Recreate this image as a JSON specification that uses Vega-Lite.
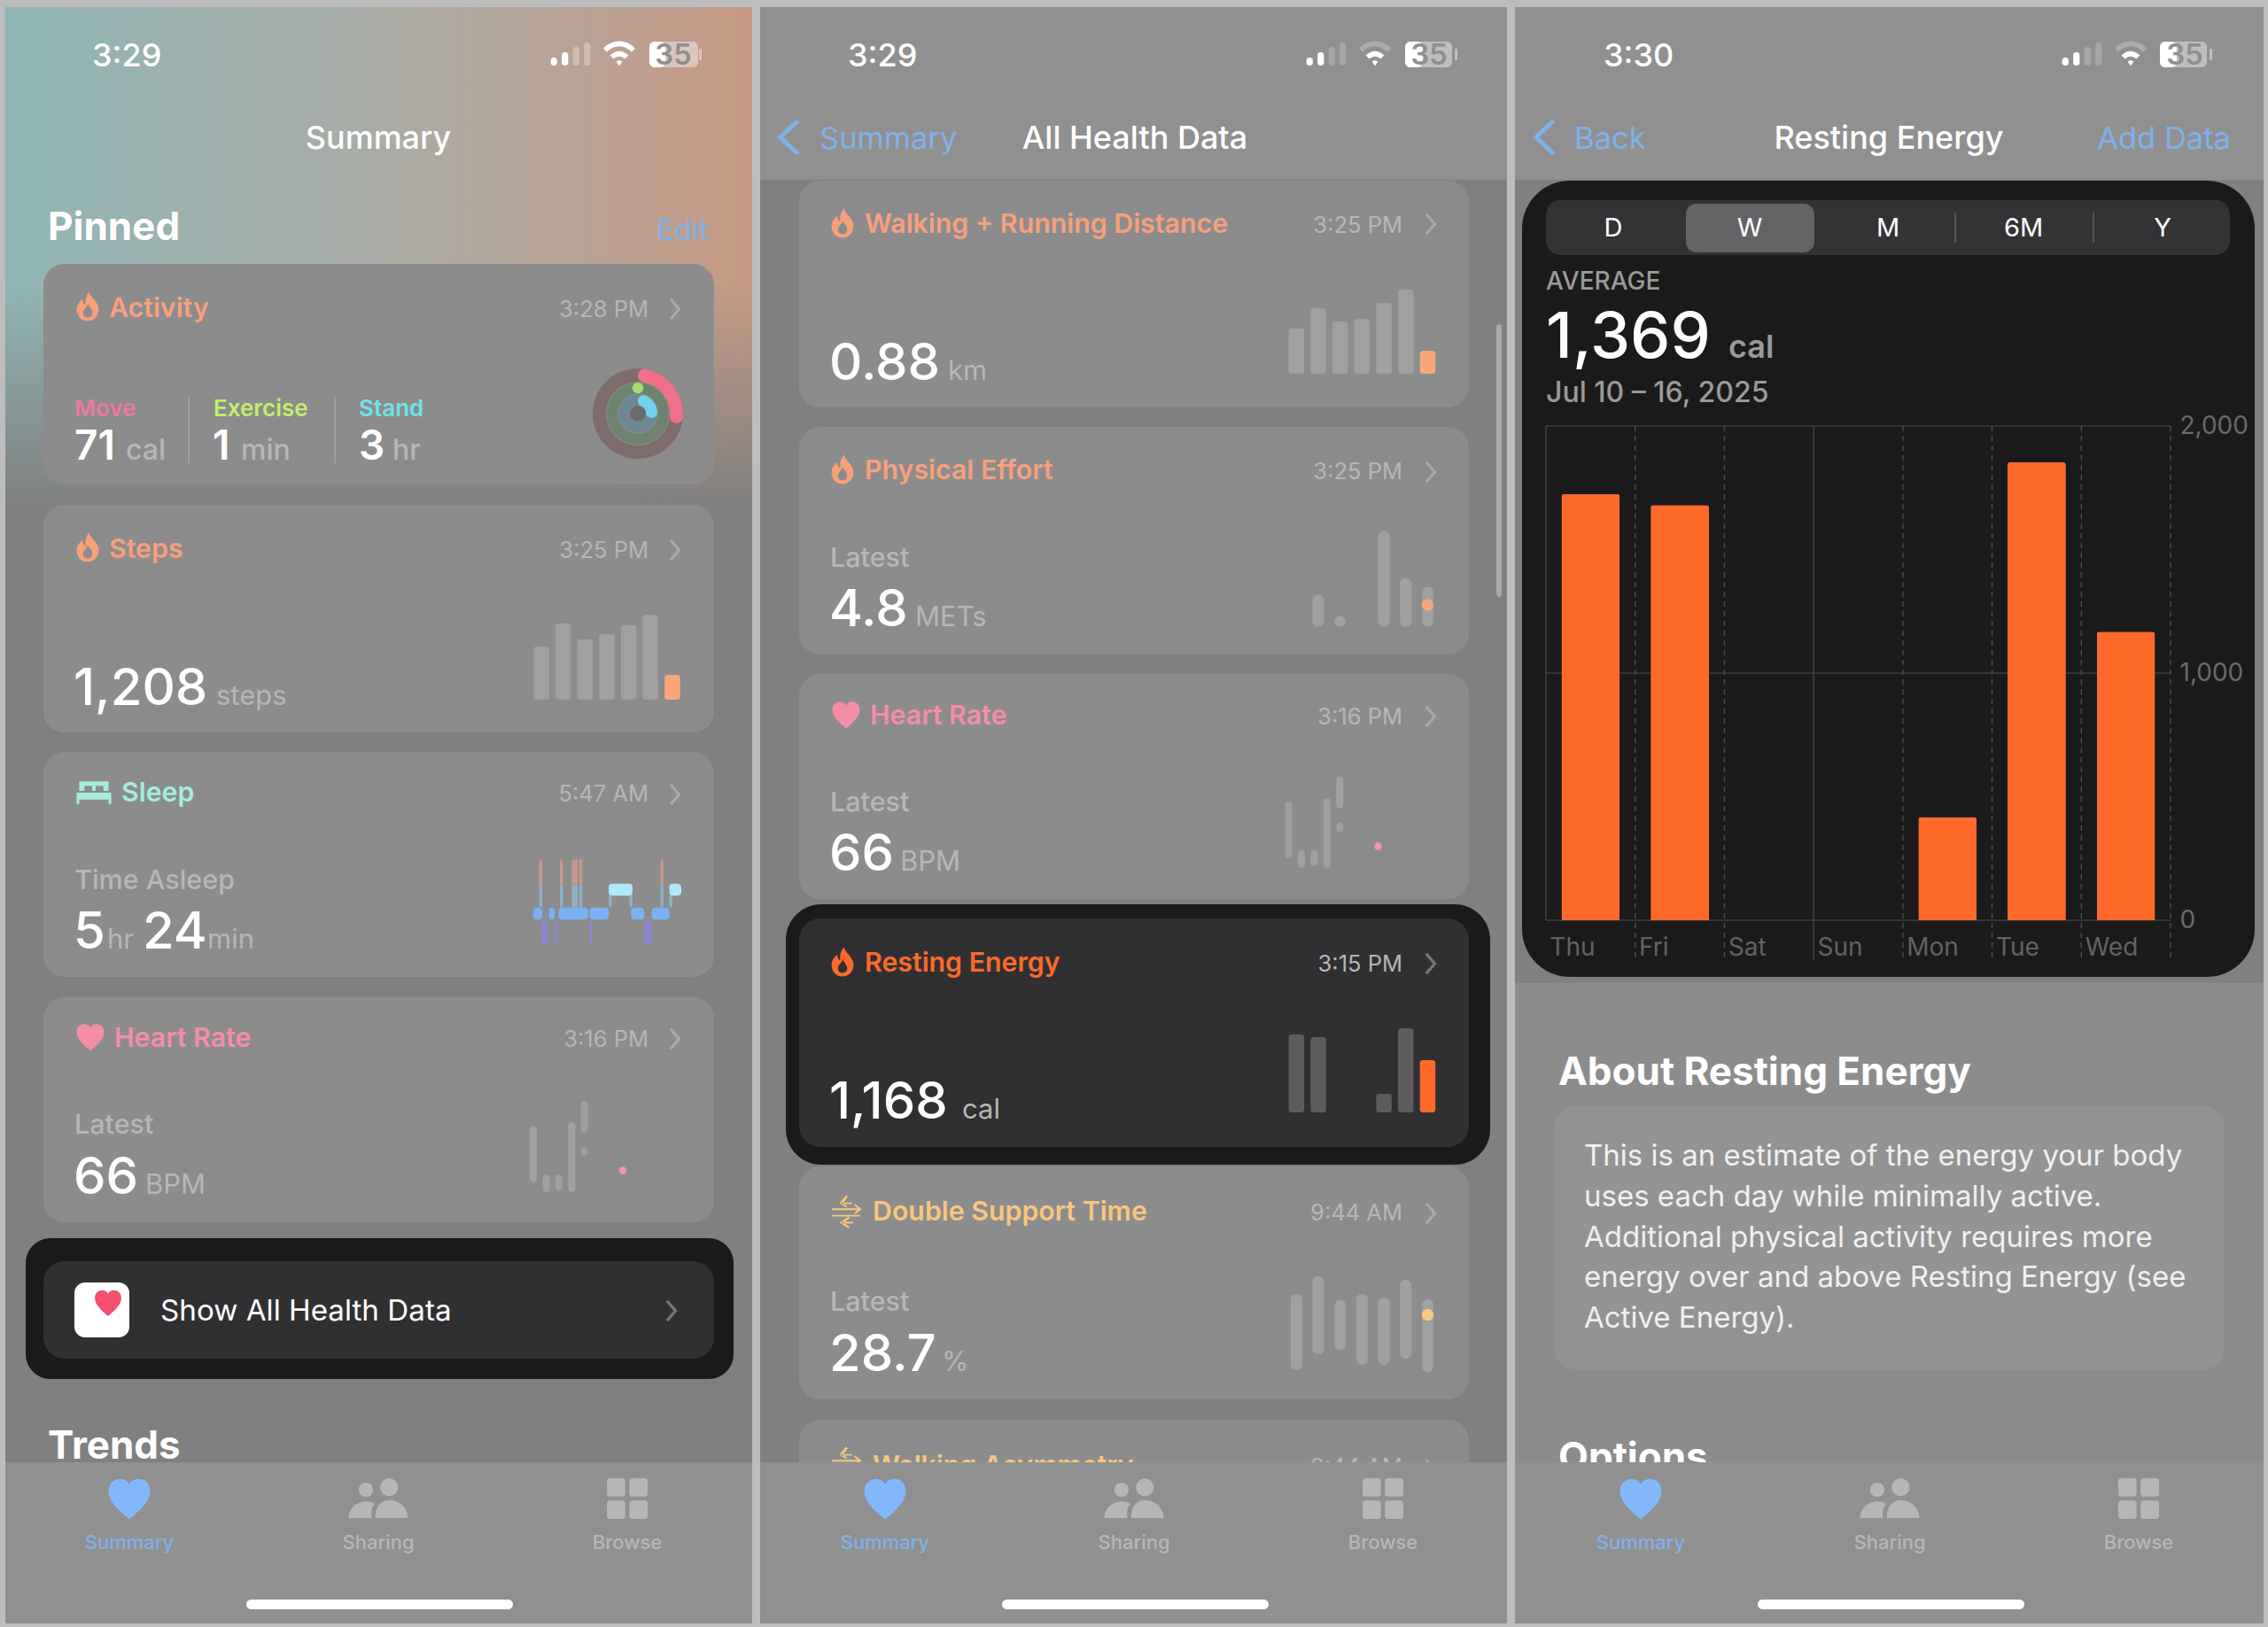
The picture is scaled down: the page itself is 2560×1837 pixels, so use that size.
{
"$schema":"https://vega.github.io/schema/vega-lite/v6.json",
"width":2560,"height":1837,"padding":0,"autosize":{"type":"none"},
"background":"#bdbdbd",
"config":{"view":{"stroke":null},"font":"Inter"},
"datasets":{
"panelOne":[{"anchor":0,"to":1}],
"rects":[
{"anchor":2,"to":3,"tone":"panelBase","kind":"none"},
{"anchor":2,"to":6,"tone":"header","kind":"none"},
{"anchor":4,"to":5,"tone":"card","kind":"none"},
{"anchor":8,"to":9,"tone":"panelBase","kind":"none"},
{"anchor":4,"to":7,"tone":"header","kind":"none"},
{"anchor":10,"to":11,"tone":"card","kind":"card"},
{"anchor":12,"to":13,"tone":"card","kind":"card"},
{"anchor":14,"to":15,"tone":"card","kind":"card"},
{"anchor":16,"to":17,"tone":"card","kind":"card"},
{"anchor":18,"to":19,"tone":"black","kind":"frameSmall"},
{"anchor":20,"to":21,"tone":"dark","kind":"card"},
{"anchor":22,"to":23,"tone":"white","kind":"app"},
{"anchor":24,"to":25,"tone":"card","kind":"card"},
{"anchor":26,"to":27,"tone":"card","kind":"card"},
{"anchor":28,"to":29,"tone":"card","kind":"card"},
{"anchor":30,"to":31,"tone":"black","kind":"frame"},
{"anchor":32,"to":33,"tone":"dark","kind":"card"},
{"anchor":34,"to":35,"tone":"card","kind":"card"},
{"anchor":36,"to":37,"tone":"card","kind":"card"},
{"anchor":38,"to":39,"tone":"scroll","kind":"thin"},
{"anchor":40,"to":41,"tone":"black","kind":"sheet"},
{"anchor":42,"to":43,"tone":"seg","kind":"seg"},
{"anchor":44,"to":45,"tone":"sel","kind":"sel"},
{"anchor":46,"to":47,"tone":"info","kind":"card"},
{"anchor":72,"to":73,"tone":"line","kind":"none"},
{"anchor":74,"to":75,"tone":"line","kind":"none"},
{"anchor":76,"to":77,"tone":"segLine","kind":"none"},
{"anchor":78,"to":79,"tone":"segLine","kind":"none"}
],
"topRects":[
{"anchor":48,"to":49,"tone":"header","kind":"none"},
{"anchor":50,"to":51,"tone":"header","kind":"none"},
{"anchor":52,"to":53,"tone":"header","kind":"none"},
{"anchor":54,"to":55,"tone":"white","kind":"thin"},
{"anchor":56,"to":57,"tone":"white","kind":"thin"},
{"anchor":58,"to":59,"tone":"white","kind":"thin"},
{"anchor":60,"to":61,"tone":"batteryDim","kind":"thin"},
{"anchor":62,"to":63,"tone":"white","kind":"thin"},
{"anchor":64,"to":65,"tone":"batteryDim","kind":"thin"},
{"anchor":66,"to":67,"tone":"white","kind":"thin"},
{"anchor":68,"to":69,"tone":"batteryDim","kind":"thin"},
{"anchor":70,"to":71,"tone":"white","kind":"thin"},
{"anchor":210,"to":211,"tone":"batteryDim","kind":"none"},
{"anchor":212,"to":213,"tone":"batteryDim","kind":"none"},
{"anchor":214,"to":215,"tone":"batteryDim","kind":"none"}
],
"under":[
{"anchor":112,"label":"Trends","cls":"section","tone":"white"},
{"anchor":143,"label":"Walking Asymmetry","cls":"title","tone":"amber"},
{"anchor":144,"label":"9:44 AM","cls":"time","tone":"muted"},
{"anchor":168,"label":"Options","cls":"section","tone":"white"}
],
"underIcons":[
{"anchor":198,"icon":"arrows","tone":"amber"},
{"anchor":199,"icon":"chevron","tone":"chev"}
],
"texts":[
{"anchor":80,"label":"3:29","cls":"status","tone":"white"},
{"anchor":81,"label":"Summary","cls":"nav","tone":"white"},
{"anchor":82,"label":"Pinned","cls":"section","tone":"white"},
{"anchor":83,"label":"Edit","cls":"linkEdit","tone":"link"},
{"anchor":84,"label":"Activity","cls":"title","tone":"peach"},
{"anchor":85,"label":"3:28 PM","cls":"time","tone":"muted"},
{"anchor":86,"label":"Move","cls":"ringLabel","tone":"move"},
{"anchor":87,"label":"71","cls":"ringValue","tone":"white"},
{"anchor":88,"label":"cal","cls":"ringUnit","tone":"muted"},
{"anchor":89,"label":"Exercise","cls":"ringLabel","tone":"exercise"},
{"anchor":90,"label":"1","cls":"ringValue","tone":"white"},
{"anchor":91,"label":"min","cls":"ringUnit","tone":"muted"},
{"anchor":92,"label":"Stand","cls":"ringLabel","tone":"stand"},
{"anchor":93,"label":"3","cls":"ringValue","tone":"white"},
{"anchor":94,"label":"hr","cls":"ringUnit","tone":"muted"},
{"anchor":95,"label":"Steps","cls":"title","tone":"peach"},
{"anchor":96,"label":"3:25 PM","cls":"time","tone":"muted"},
{"anchor":97,"label":"1,208","cls":"value","tone":"white"},
{"anchor":98,"label":"steps","cls":"unit","tone":"muted"},
{"anchor":99,"label":"Sleep","cls":"title","tone":"mint"},
{"anchor":100,"label":"5:47 AM","cls":"time","tone":"muted"},
{"anchor":101,"label":"Time Asleep","cls":"latest","tone":"muted"},
{"anchor":102,"label":"5","cls":"value","tone":"white"},
{"anchor":103,"label":"hr","cls":"unit","tone":"muted"},
{"anchor":104,"label":"24","cls":"value","tone":"white"},
{"anchor":105,"label":"min","cls":"unit","tone":"muted"},
{"anchor":106,"label":"Heart Rate","cls":"title","tone":"pink"},
{"anchor":107,"label":"3:16 PM","cls":"time","tone":"muted"},
{"anchor":108,"label":"Latest","cls":"latest","tone":"muted"},
{"anchor":109,"label":"66","cls":"value","tone":"white"},
{"anchor":110,"label":"BPM","cls":"unit","tone":"muted"},
{"anchor":111,"label":"Show All Health Data","cls":"row","tone":"white"},
{"anchor":113,"label":"Summary","cls":"tab","tone":"link"},
{"anchor":114,"label":"Sharing","cls":"tab","tone":"muted"},
{"anchor":115,"label":"Browse","cls":"tab","tone":"muted"},
{"anchor":116,"label":"35","cls":"batt","tone":"battText"},
{"anchor":117,"label":"3:29","cls":"status","tone":"white"},
{"anchor":118,"label":"Summary","cls":"navLink","tone":"link"},
{"anchor":119,"label":"All Health Data","cls":"nav","tone":"white"},
{"anchor":120,"label":"Walking + Running Distance","cls":"title","tone":"peach"},
{"anchor":121,"label":"3:25 PM","cls":"time","tone":"muted"},
{"anchor":122,"label":"0.88","cls":"value","tone":"white"},
{"anchor":123,"label":"km","cls":"unit","tone":"muted"},
{"anchor":124,"label":"Physical Effort","cls":"title","tone":"peach"},
{"anchor":125,"label":"3:25 PM","cls":"time","tone":"muted"},
{"anchor":126,"label":"Latest","cls":"latest","tone":"muted"},
{"anchor":127,"label":"4.8","cls":"value","tone":"white"},
{"anchor":128,"label":"METs","cls":"unit","tone":"muted"},
{"anchor":129,"label":"Heart Rate","cls":"title","tone":"pink"},
{"anchor":130,"label":"3:16 PM","cls":"time","tone":"muted"},
{"anchor":131,"label":"Latest","cls":"latest","tone":"muted"},
{"anchor":132,"label":"66","cls":"value","tone":"white"},
{"anchor":133,"label":"BPM","cls":"unit","tone":"muted"},
{"anchor":134,"label":"Resting Energy","cls":"title","tone":"orange"},
{"anchor":135,"label":"3:15 PM","cls":"time","tone":"muted"},
{"anchor":136,"label":"1,168","cls":"value","tone":"white"},
{"anchor":137,"label":"cal","cls":"unit","tone":"muted"},
{"anchor":138,"label":"Double Support Time","cls":"title","tone":"amber"},
{"anchor":139,"label":"9:44 AM","cls":"time","tone":"muted"},
{"anchor":140,"label":"Latest","cls":"latest","tone":"muted"},
{"anchor":141,"label":"28.7","cls":"value","tone":"white"},
{"anchor":142,"label":"%","cls":"unit","tone":"muted"},
{"anchor":145,"label":"Summary","cls":"tab","tone":"link"},
{"anchor":146,"label":"Sharing","cls":"tab","tone":"muted"},
{"anchor":147,"label":"Browse","cls":"tab","tone":"muted"},
{"anchor":148,"label":"35","cls":"batt","tone":"battText"},
{"anchor":149,"label":"3:30","cls":"status","tone":"white"},
{"anchor":150,"label":"Back","cls":"navLink","tone":"link"},
{"anchor":151,"label":"Resting Energy","cls":"nav","tone":"white"},
{"anchor":152,"label":"Add Data","cls":"linkRight","tone":"link"},
{"anchor":153,"label":"D","cls":"seg","tone":"white"},
{"anchor":154,"label":"W","cls":"seg","tone":"white"},
{"anchor":155,"label":"M","cls":"seg","tone":"white"},
{"anchor":156,"label":"6M","cls":"seg","tone":"white"},
{"anchor":157,"label":"Y","cls":"seg","tone":"white"},
{"anchor":158,"label":"AVERAGE","cls":"avg","tone":"dim"},
{"anchor":159,"label":"1,369","cls":"big","tone":"white"},
{"anchor":160,"label":"cal","cls":"bigUnit","tone":"dim"},
{"anchor":161,"label":"Jul 10 – 16, 2025","cls":"date","tone":"dim"},
{"anchor":162,"label":"About Resting Energy","cls":"section","tone":"white"},
{"anchor":163,"label":"This is an estimate of the energy your body","cls":"body","tone":"bodyText"},
{"anchor":164,"label":"uses each day while minimally active.","cls":"body","tone":"bodyText"},
{"anchor":165,"label":"Additional physical activity requires more","cls":"body","tone":"bodyText"},
{"anchor":166,"label":"energy over and above Resting Energy (see","cls":"body","tone":"bodyText"},
{"anchor":167,"label":"Active Energy).","cls":"body","tone":"bodyText"},
{"anchor":169,"label":"Summary","cls":"tab","tone":"link"},
{"anchor":170,"label":"Sharing","cls":"tab","tone":"muted"},
{"anchor":171,"label":"Browse","cls":"tab","tone":"muted"},
{"anchor":172,"label":"35","cls":"batt","tone":"battText"}
],
"icons":[
{"anchor":173,"icon":"flame","tone":"peach"},
{"anchor":174,"icon":"chevron","tone":"chev"},
{"anchor":175,"icon":"flame","tone":"peach"},
{"anchor":176,"icon":"chevron","tone":"chev"},
{"anchor":177,"icon":"bed","tone":"mint"},
{"anchor":178,"icon":"chevron","tone":"chev"},
{"anchor":179,"icon":"heart","tone":"pink"},
{"anchor":180,"icon":"chevron","tone":"chev"},
{"anchor":181,"icon":"appHeart","tone":"appRed"},
{"anchor":182,"icon":"chevron","tone":"chevDark"},
{"anchor":183,"icon":"tabHeart","tone":"tabBlue"},
{"anchor":184,"icon":"people","tone":"muted"},
{"anchor":185,"icon":"grid","tone":"muted"},
{"anchor":186,"icon":"wifiOuter","tone":"white"},
{"anchor":186,"icon":"wifiInner","tone":"white"},
{"anchor":187,"icon":"back","tone":"link"},
{"anchor":188,"icon":"flame","tone":"peach"},
{"anchor":189,"icon":"chevron","tone":"chev"},
{"anchor":190,"icon":"flame","tone":"peach"},
{"anchor":191,"icon":"chevron","tone":"chev"},
{"anchor":192,"icon":"heart","tone":"pink"},
{"anchor":193,"icon":"chevron","tone":"chev"},
{"anchor":194,"icon":"flame","tone":"orange"},
{"anchor":195,"icon":"chevron","tone":"chevDark"},
{"anchor":196,"icon":"arrows","tone":"amber"},
{"anchor":197,"icon":"chevron","tone":"chev"},
{"anchor":200,"icon":"tabHeart","tone":"tabBlue"},
{"anchor":201,"icon":"people","tone":"muted"},
{"anchor":202,"icon":"grid","tone":"muted"},
{"anchor":203,"icon":"wifiOuter","tone":"wifiDim"},
{"anchor":203,"icon":"wifiInner","tone":"white"},
{"anchor":204,"icon":"back","tone":"link"},
{"anchor":205,"icon":"tabHeart","tone":"tabBlue"},
{"anchor":206,"icon":"people","tone":"muted"},
{"anchor":207,"icon":"grid","tone":"muted"},
{"anchor":208,"icon":"wifiOuter","tone":"wifiDim"},
{"anchor":208,"icon":"wifiInner","tone":"white"}
],
"rings":[
{"anchor":209,"ring":"Move","tone":"moveTrack","start":0,"end":1},
{"anchor":209,"ring":"Move","tone":"moveRing","start":0,"end":0.29},
{"anchor":209,"ring":"Exercise","tone":"exerciseTrack","start":0,"end":1},
{"anchor":209,"ring":"Exercise","tone":"exerciseRing","start":-0.035,"end":0.035},
{"anchor":209,"ring":"Stand","tone":"standTrack","start":0,"end":1},
{"anchor":209,"ring":"Stand","tone":"standRing","start":0,"end":0.3},
{"anchor":209,"ring":"Hole","tone":"ringHole","start":0,"end":1}
],
"minis":[
{"chart":"Steps","slot":"1","low":0,"high":60,"tone":"rest"},
{"chart":"Steps","slot":"2","low":0,"high":86,"tone":"rest"},
{"chart":"Steps","slot":"3","low":0,"high":68,"tone":"rest"},
{"chart":"Steps","slot":"4","low":0,"high":74,"tone":"rest"},
{"chart":"Steps","slot":"5","low":0,"high":84,"tone":"rest"},
{"chart":"Steps","slot":"6","low":0,"high":96,"tone":"rest"},
{"chart":"Steps","slot":"7","low":0,"high":28,"tone":"accent"},
{"chart":"Distance","slot":"1","low":0,"high":51,"tone":"rest"},
{"chart":"Distance","slot":"2","low":0,"high":74,"tone":"rest"},
{"chart":"Distance","slot":"3","low":0,"high":59,"tone":"rest"},
{"chart":"Distance","slot":"4","low":0,"high":62,"tone":"rest"},
{"chart":"Distance","slot":"5","low":0,"high":80,"tone":"rest"},
{"chart":"Distance","slot":"6","low":0,"high":95,"tone":"rest"},
{"chart":"Distance","slot":"7","low":0,"high":26,"tone":"accent"},
{"chart":"Effort","slot":"2","low":0,"high":36,"tone":"rest"},
{"chart":"Effort","slot":"3","low":0,"high":12,"tone":"rest"},
{"chart":"Effort","slot":"5","low":0,"high":108,"tone":"rest"},
{"chart":"Effort","slot":"6","low":0,"high":55,"tone":"rest"},
{"chart":"Effort","slot":"7","low":0,"high":45,"tone":"rest"},
{"chart":"Effort","slot":"7","low":18,"high":31,"tone":"accent"},
{"chart":"Resting","slot":"1","low":0,"high":88,"tone":"restDark"},
{"chart":"Resting","slot":"2","low":0,"high":85,"tone":"restDark"},
{"chart":"Resting","slot":"5","low":0,"high":21,"tone":"restDark"},
{"chart":"Resting","slot":"6","low":0,"high":95,"tone":"restDark"},
{"chart":"Resting","slot":"7","low":0,"high":59,"tone":"orange"},
{"chart":"Support","slot":"1","low":2,"high":88,"tone":"rest"},
{"chart":"Support","slot":"2","low":20,"high":108,"tone":"rest"},
{"chart":"Support","slot":"3","low":25,"high":81,"tone":"rest"},
{"chart":"Support","slot":"4","low":8,"high":88,"tone":"rest"},
{"chart":"Support","slot":"5","low":8,"high":84,"tone":"rest"},
{"chart":"Support","slot":"6","low":15,"high":104,"tone":"rest"},
{"chart":"Support","slot":"7","low":0,"high":82,"tone":"rest"},
{"chart":"Support","slot":"7","low":58,"high":71,"tone":"amberDot"}
],
"heartRate":[
{"slot":"1","low":61,"high":125,"tone":"rest"},
{"slot":"2","low":50,"high":70,"tone":"rest"},
{"slot":"3","low":52,"high":70,"tone":"rest"},
{"slot":"4","low":50,"high":129,"tone":"rest"},
{"slot":"5","low":117,"high":153,"tone":"rest"},
{"slot":"5","low":91,"high":101,"tone":"rest"},
{"slot":"8","low":70,"high":79,"tone":"pinkDot"}
],
"sleep":[
{"start":4,"end":6,"low":70,"high":100,"stage":"Awake"},
{"start":4,"end":6,"low":43,"high":70,"stage":"Rise"},
{"start":18,"end":20,"low":70,"high":100,"stage":"Awake"},
{"start":18,"end":20,"low":43,"high":70,"stage":"Rise"},
{"start":26,"end":28,"low":70,"high":100,"stage":"Awake"},
{"start":26,"end":28,"low":43,"high":70,"stage":"Rise"},
{"start":28,"end":30,"low":70,"high":100,"stage":"Awake"},
{"start":28,"end":30,"low":43,"high":70,"stage":"Rise"},
{"start":31,"end":33,"low":70,"high":100,"stage":"Awake"},
{"start":31,"end":33,"low":43,"high":70,"stage":"Rise"},
{"start":86,"end":88,"low":70,"high":100,"stage":"Awake"},
{"start":86,"end":88,"low":43,"high":70,"stage":"Rise"},
{"start":51,"end":53,"low":43,"high":71,"stage":"Rise"},
{"start":65,"end":67,"low":43,"high":71,"stage":"Rise"},
{"start":92,"end":94,"low":43,"high":71,"stage":"Rise"},
{"start":0,"end":6,"low":29,"high":43,"stage":"Core"},
{"start":10.5,"end":14.5,"low":29,"high":43,"stage":"Core"},
{"start":17,"end":37,"low":29,"high":43,"stage":"Core"},
{"start":38,"end":51,"low":29,"high":43,"stage":"Core"},
{"start":66,"end":75,"low":29,"high":43,"stage":"Core"},
{"start":80,"end":92,"low":29,"high":43,"stage":"Core"},
{"start":51,"end":67,"low":57,"high":71,"stage":"REM"},
{"start":92,"end":100,"low":57,"high":71,"stage":"REM"},
{"start":5,"end":10,"low":0,"high":29,"stage":"Deep"},
{"start":14.5,"end":16.5,"low":0,"high":29,"stage":"Deep"},
{"start":38,"end":40,"low":0,"high":29,"stage":"Deep"},
{"start":75,"end":80,"low":0,"high":29,"stage":"Deep"}
],
"signal":[
{"slot":"1","bars":9,"tone":"on"},
{"slot":"2","bars":15,"tone":"on"},
{"slot":"3","bars":21,"tone":"off"},
{"slot":"4","bars":26,"tone":"off"}
],
"week":[
{"day":"Thu","cal":1725},
{"day":"Fri","cal":1680},
{"day":"Mon","cal":418},
{"day":"Tue","cal":1854},
{"day":"Wed","cal":1168}
],
"calLines":[{"cal":0,"first":0,"last":7},{"cal":1000,"first":0,"last":7},{"cal":2000,"first":0,"last":7}],
"dayLines":[
{"edge":0,"top":2000,"bottom":0,"style":"solid"},
{"edge":1,"top":2000,"bottom":-160,"style":"dash"},
{"edge":2,"top":2000,"bottom":-160,"style":"dash"},
{"edge":3,"top":2000,"bottom":-160,"style":"solid"},
{"edge":4,"top":2000,"bottom":-160,"style":"dash"},
{"edge":5,"top":2000,"bottom":-160,"style":"dash"},
{"edge":6,"top":2000,"bottom":-160,"style":"dash"},
{"edge":7,"top":2000,"bottom":-160,"style":"dash"}
]
},
"resolve":{"scale":{"x":"independent","y":"independent","color":"independent"},"axis":{"x":"independent","y":"independent"}},
"layer":[
{
"resolve":{"scale":{"size":"independent","shape":"independent"}},
"encoding":{
"x":{"field":"anchor","type":"quantitative","axis":null,"scale":{"nice":false,"zero":false,
"domain":[0,1,2,3,4,5,6,7,8,9,10,11,12,13,14,15,16,17,18,19,20,21,22,23,24,25,26,27,28,29,30,31,32,33,34,35,36,37,38,39,40,41,42,43,44,45,46,47,48,49,50,51,52,53,54,55,56,57,58,59,60,61,62,63,64,65,66,67,68,69,70,71,72,73,74,75,76,77,78,79,80,81,82,83,84,85,86,87,88,89,90,91,92,93,94,95,96,97,98,99,100,101,102,103,104,105,106,107,108,109,110,111,112,113,114,115,116,117,118,119,120,121,122,123,124,125,126,127,128,129,130,131,132,133,134,135,136,137,138,139,140,141,142,143,144,145,146,147,148,149,150,151,152,153,154,155,156,157,158,159,160,161,162,163,164,165,166,167,168,169,170,171,172,173,174,175,176,177,178,179,180,181,182,183,184,185,186,187,188,189,190,191,192,193,194,195,196,197,198,199,200,201,202,203,204,205,206,207,208,209,210,211,212,213,214,215],
"range":[6,849,858,1701,1710,2555,1701,2555,1710,2555,
49,806,49,806,49,806,49,806,29,828,
49,806,84,146,902,1658,902,1658,902,1658,
887,1682,902,1658,902,1658,902,1658,1689,1695,
1718,2545,1745,2517,1903,2048,1754,2511,6,849,
858,1701,1710,2555,278,579,1131,1432,1984,2285,
733,788,733,751,1586,1639,1586,1606,2438,2491,
2438,2457,212,214,377,379,2206,2208,2362,2364,
104,427,54,800,123,732,84,84,142,241,
240,272,405,405,443,123,732,83,244,137,
732,84,83,121,161,234,129,732,84,83,
164,181,54,146,427,708,760,957,925,1281,
976,1583,936,1070,976,1583,937,936,1033,982,
1583,937,936,1016,976,1583,936,1086,985,1583,
937,936,1063,985,1583,999,1280,1561,1613,1810,
1777,2132,2518,1821,1975,2131,2284,2441,1745,1745,
1951,1745,1759,1788,1788,1788,1788,1788,1759,1852,
2133,2414,2466,99,762,99,762,106,762,102,
762,122,758,146,427,708,699,890,951,1615,
951,1615,955,1615,951,1615,956,1615,956,1615,
999,1280,1561,1552,1743,1852,2133,2414,2405,720,
789,792,1642,1645,2494,2497]}},
"y":{"field":"anchor","type":"quantitative","axis":null,"scale":{"nice":false,"zero":false,
"domain":[0,1,2,3,4,5,6,7,8,9,10,11,12,13,14,15,16,17,18,19,20,21,22,23,24,25,26,27,28,29,30,31,32,33,34,35,36,37,38,39,40,41,42,43,44,45,46,47,48,49,50,51,52,53,54,55,56,57,58,59,60,61,62,63,64,65,66,67,68,69,70,71,72,73,74,75,76,77,78,79,80,81,82,83,84,85,86,87,88,89,90,91,92,93,94,95,96,97,98,99,100,101,102,103,104,105,106,107,108,109,110,111,112,113,114,115,116,117,118,119,120,121,122,123,124,125,126,127,128,129,130,131,132,133,134,135,136,137,138,139,140,141,142,143,144,145,146,147,148,149,150,151,152,153,154,155,156,157,158,159,160,161,162,163,164,165,166,167,168,169,170,171,172,173,174,175,176,177,178,179,180,181,182,183,184,185,186,187,188,189,190,191,192,193,194,195,196,197,198,199,200,201,202,203,204,205,206,207,208,209,210,211,212,213,214,215],
"range":[8,1833,8,1833,8,1833,203,203,203,1110,
298,547,570,827,849,1103,1126,1380,1398,1557,
1424,1534,1448,1510,204,460,482,739,761,1015,
1021,1315,1037,1295,1317,1580,1603,1700,366,674,
204,1103,226,288,230,285,1249,1546,1651,1833,
1651,1833,1651,1833,1806,1817,1806,1817,1806,1817,
47,76,47,76,47,76,47,76,47,76,
47,76,448,523,448,523,240,274,240,274,
75,168,271,271,358,358,470,519,519,470,
519,519,470,519,519,630,630,796,796,905,
905,1004,1071,1071,1071,1071,1182,1182,1280,1348,
1348,1491,1647,1749,1749,1749,73,75,168,168,
263,263,429,429,541,541,640,707,707,818,
818,916,983,983,1097,1097,1263,1263,1378,1378,
1480,1548,1548,1665,1665,1749,1749,1749,73,75,
168,168,168,267,267,267,267,267,327,404,
404,454,1225,1316,1362,1408,1453,1499,1660,1749,
1749,1749,73,346,349,618,621,895,897,1171,
1173,1471,1480,1692,1692,1692,61,155,252,253,
530,533,807,809,1086,1088,1368,1370,1652,1660,
1692,1692,1692,61,155,1692,1692,1692,61,467,
55,68,55,68,55,68]}},
"color":{"field":"tone","type":"nominal","legend":null,"scale":{
"domain":["panelBase","header","card","info","black","dark","white","scroll","seg","sel","line","segLine","batteryDim","battText","peach","mint","pink","amber","orange","link","tabBlue","appRed","muted","chev","chevDark","wifiDim","dim","bodyText","move","exercise","stand","moveTrack","moveRing","exerciseTrack","exerciseRing","standTrack","standRing","ringHole"],
"range":["#808080","#909090","#8c8c8c","#939393","#1a1a1a","#303032","#ffffff","#a9a9a9","#333336","#636366","#a0a0a0","#55555a","rgba(255,255,255,0.42)","#8f8f8f","#f6a07a","#a6ecdf","#f48da6","#f8c67e","#ff6a2b","#7fb0ea","#82b8fb","#f44f70","#b6b6b6","#a9a9a9","#77777a","#ababab","#9a9a9a","#f0f0f0","#ea7a9c","#c2ee6c","#6ce4ea","#7e6b6b","#ee7187","#6e836e","#a6dd6c","#6f8794","#6fd3ee","#6a6a6a"]}}
},
"layer":[
{"data":{"name":"panelOne"},"mark":{"type":"rect"},"encoding":{"x2":{"field":"to"},"y2":{"field":"to"},"color":{"value":{"gradient":"linear","x1":0,"y1":0,"x2":1,"y2":0,"stops":[{"offset":0,"color":"#8fb6b6"},{"offset":0.5,"color":"#aaaca6"},{"offset":1,"color":"#c69a84"}]}}}},
{"data":{"name":"panelOne"},"mark":{"type":"rect"},"encoding":{"x2":{"field":"to"},"y2":{"field":"to"},"color":{"value":{"gradient":"linear","x1":0,"y1":0,"x2":0,"y2":1,"stops":[{"offset":0.17,"color":"rgba(128,128,128,0)"},{"offset":0.31,"color":"rgba(128,128,128,1)"},{"offset":1,"color":"rgba(128,128,128,1)"}]}}}},
{"data":{"name":"rects"},"mark":{"type":"rect","cornerRadius":{"expr":"({none:0,card:24,frameSmall:28,frame:40,app:12,thin:6,sheet:54,seg:16,sel:12})[datum.kind]"}},"encoding":{"x2":{"field":"to"},"y2":{"field":"to"}}},
{"data":{"name":"under"},"mark":{"type":"text","baseline":"alphabetic","font":"Inter","fontWeight":{"expr":"datum.cls=='section'?700:(datum.cls=='title'?600:400)"},"align":{"expr":"datum.cls=='time'?'right':'left'"}},"encoding":{"text":{"field":"label"},"size":{"field":"cls","type":"ordinal","legend":null,"scale":{"type":"ordinal","domain":["section","title","time"],"range":[44,30.3,25.5]}}}},
{"data":{"name":"underIcons"},"mark":{"type":"point","filled":true,"opacity":1},"encoding":{"shape":{"field":"icon","type":"nominal","legend":null,"scale":{"domain":["arrows","chevron"],"range":["M-0.35,-0.55 H0.3 V-0.45 H-0.35 Z M-0.05,-1 L-0.45,-0.5 L-0.05,-0.25 L0.02,-0.33 L-0.25,-0.5 L0.05,-0.9 Z M-0.9,-0.2 H0.8 V-0.1 H-0.9 Z M0.5,-0.45 L0.9,-0.15 L0.5,0.15 L0.43,0.07 L0.72,-0.15 L0.43,-0.37 Z M-0.9,0.2 H0.8 V0.3 H-0.9 Z M-0.3,0.62 H0.35 V0.72 H-0.3 Z","M-0.55,-0.88 L-0.3,-1 L0.55,0 L-0.3,1 L-0.55,0.88 L0.2,0 Z"]}},"size":{"field":"icon","type":"ordinal","legend":null,"scale":{"type":"ordinal","domain":["arrows","chevron"],"range":[1400,576]}}}},
{"data":{"name":"topRects"},"mark":{"type":"rect","cornerRadius":{"expr":"({none:0,thin:6})[datum.kind]"}},"encoding":{"x2":{"field":"to"},"y2":{"field":"to"}}},
{"data":{"name":"rings"},"transform":[{"filter":"datum.ring=='Move'"}],"mark":{"type":"arc","radius":51,"radius2":36,"cornerRadius":7},"encoding":{"theta":{"field":"start","type":"quantitative","stack":null,"scale":{"domain":[0,1],"range":[0,6.2832]}},"theta2":{"field":"end"}}},
{"data":{"name":"rings"},"transform":[{"filter":"datum.ring=='Exercise'"}],"mark":{"type":"arc","radius":35,"radius2":23,"cornerRadius":6},"encoding":{"theta":{"field":"start","type":"quantitative","stack":null,"scale":{"domain":[0,1],"range":[0,6.2832]}},"theta2":{"field":"end"}}},
{"data":{"name":"rings"},"transform":[{"filter":"datum.ring=='Stand'"}],"mark":{"type":"arc","radius":22,"radius2":9,"cornerRadius":6},"encoding":{"theta":{"field":"start","type":"quantitative","stack":null,"scale":{"domain":[0,1],"range":[0,6.2832]}},"theta2":{"field":"end"}}},
{"data":{"name":"rings"},"transform":[{"filter":"datum.ring=='Hole'"}],"mark":{"type":"arc","radius":9,"radius2":0},"encoding":{"theta":{"field":"start","type":"quantitative","stack":null,"scale":{"domain":[0,1],"range":[0,6.2832]}},"theta2":{"field":"end"}}},
{"data":{"name":"texts"},"mark":{"type":"text","baseline":"alphabetic","font":"Inter","fontWeight":{"expr":"({status:500,nav:500,navLink:400,linkRight:400,linkEdit:400,section:700,title:600,time:400,ringLabel:600,ringValue:600,ringUnit:500,value:500,unit:400,latest:500,row:400,tab:500,batt:600,seg:400,avg:500,big:500,bigUnit:600,date:500,body:400})[datum.cls]"},"align":{"expr":"({time:'right',linkEdit:'right',linkRight:'right',nav:'center',tab:'center',seg:'center',batt:'center'})[datum.cls]||'left'"}},"encoding":{"text":{"field":"label"},"size":{"field":"cls","type":"ordinal","legend":null,"scale":{"type":"ordinal","domain":["status","nav","navLink","linkRight","linkEdit","section","title","time","ringLabel","ringValue","ringUnit","value","unit","latest","row","tab","batt","seg","avg","big","bigUnit","date","body"],"range":[36,36,34.5,34.5,33,44,30.3,25.5,26,46,32,58,31,30.5,33.2,22,33,29,28,72,36,32,33]}}}},
{"data":{"name":"icons"},"mark":{"type":"point","filled":true,"opacity":1},"encoding":{"shape":{"field":"icon","type":"nominal","legend":null,"scale":{"domain":["flame","heart","appHeart","tabHeart","chevron","back","bed","people","grid","arrows","wifiOuter","wifiInner"],"range":[
"M0.1,-1 C0.15,-0.65 0.75,-0.35 0.75,0.2 C0.75,0.7 0.4,1 0,1 C-0.45,1 -0.75,0.65 -0.75,0.2 C-0.75,-0.1 -0.55,-0.35 -0.35,-0.5 C-0.35,-0.3 -0.3,-0.15 -0.15,-0.1 C-0.2,-0.5 -0.1,-0.8 0.1,-1 Z M0,0.75 C0.2,0.75 0.32,0.6 0.32,0.45 C0.32,0.2 0.12,0.05 0,-0.15 C-0.05,0.1 -0.32,0.2 -0.32,0.45 C-0.32,0.6 -0.2,0.75 0,0.75 Z",
"M0,1 C-0.35,0.7 -1,0.2 -1,-0.35 C-1,-0.75 -0.7,-0.95 -0.45,-0.95 C-0.25,-0.95 -0.08,-0.85 0,-0.68 C0.08,-0.85 0.25,-0.95 0.45,-0.95 C0.7,-0.95 1,-0.75 1,-0.35 C1,0.2 0.35,0.7 0,1 Z",
"M0,1 C-0.35,0.7 -1,0.2 -1,-0.35 C-1,-0.75 -0.7,-0.95 -0.45,-0.95 C-0.25,-0.95 -0.08,-0.85 0,-0.68 C0.08,-0.85 0.25,-0.95 0.45,-0.95 C0.7,-0.95 1,-0.75 1,-0.35 C1,0.2 0.35,0.7 0,1 Z",
"M0,1 C-0.35,0.7 -1,0.2 -1,-0.35 C-1,-0.75 -0.7,-0.95 -0.45,-0.95 C-0.25,-0.95 -0.08,-0.85 0,-0.68 C0.08,-0.85 0.25,-0.95 0.45,-0.95 C0.7,-0.95 1,-0.75 1,-0.35 C1,0.2 0.35,0.7 0,1 Z",
"M-0.55,-0.88 L-0.3,-1 L0.55,0 L-0.3,1 L-0.55,0.88 L0.2,0 Z",
"M0.65,-0.88 L0.42,-1 L-0.65,0 L0.42,1 L0.65,0.88 L-0.28,0 Z",
"M-0.85,-0.65 L0.85,-0.65 L0.85,-0.1 L0.55,-0.1 L0.55,-0.4 L0.1,-0.4 L0.1,-0.1 L-0.1,-0.1 L-0.1,-0.4 L-0.55,-0.4 L-0.55,-0.1 L-0.85,-0.1 Z M-1,0 L1,0 L1,0.65 L0.85,0.65 L0.85,0.4 L-0.85,0.4 L-0.85,0.65 L-1,0.65 Z",
"M0.07,-0.38 A0.3,0.3 0 1 0 0.67,-0.38 A0.3,0.3 0 1 0 0.07,-0.38 Z M-0.66,-0.3 A0.24,0.24 0 1 0 -0.18,-0.3 A0.24,0.24 0 1 0 -0.66,-0.3 Z M-0.1,0.66 C-0.1,0.25 0.1,0.05 0.37,0.05 C0.65,0.05 1,0.25 1,0.66 Z M-1,0.66 C-1,0.35 -0.75,0.1 -0.42,0.1 C-0.3,0.1 -0.2,0.13 -0.12,0.18 C-0.25,0.3 -0.25,0.5 -0.22,0.66 Z",
"M-0.85,-1 H-0.25 Q-0.1,-1 -0.1,-0.85 V-0.25 Q-0.1,-0.1 -0.25,-0.1 H-0.85 Q-1,-0.1 -1,-0.25 V-0.85 Q-1,-1 -0.85,-1 Z M0.25,-1 H0.85 Q1,-1 1,-0.85 V-0.25 Q1,-0.1 0.85,-0.1 H0.25 Q0.1,-0.1 0.1,-0.25 V-0.85 Q0.1,-1 0.25,-1 Z M-0.85,0.1 H-0.25 Q-0.1,0.1 -0.1,0.25 V0.85 Q-0.1,1 -0.25,1 H-0.85 Q-1,1 -1,0.85 V0.25 Q-1,0.1 -0.85,0.1 Z M0.25,0.1 H0.85 Q1,0.1 1,0.25 V0.85 Q1,1 0.85,1 H0.25 Q0.1,1 0.1,0.85 V0.25 Q0.1,0.1 0.25,0.1 Z",
"M-0.35,-0.55 H0.3 V-0.45 H-0.35 Z M-0.05,-1 L-0.45,-0.5 L-0.05,-0.25 L0.02,-0.33 L-0.25,-0.5 L0.05,-0.9 Z M-0.9,-0.2 H0.8 V-0.1 H-0.9 Z M0.5,-0.45 L0.9,-0.15 L0.5,0.15 L0.43,0.07 L0.72,-0.15 L0.43,-0.37 Z M-0.9,0.2 H0.8 V0.3 H-0.9 Z M-0.3,0.62 H0.35 V0.72 H-0.3 Z M0.1,0.3 L-0.45,0.67 L0.1,1 L0.17,0.92 L-0.2,0.67 L0.17,0.4 Z",
"M-1,-0.35 C-0.45,-0.95 0.45,-0.95 1,-0.35 L0.78,-0.12 C0.3,-0.6 -0.3,-0.6 -0.78,-0.12 Z",
"M-0.58,0.08 C-0.22,-0.27 0.22,-0.27 0.58,0.08 L0.35,0.3 C0.12,0.1 -0.12,0.1 -0.35,0.3 Z M-0.18,0.48 C-0.08,0.38 0.08,0.38 0.18,0.48 L0,0.75 Z"
]}},"size":{"field":"icon","type":"ordinal","legend":null,"scale":{"type":"ordinal","domain":["flame","heart","appHeart","tabHeart","chevron","back","bed","people","grid","arrows","wifiOuter","wifiInner"],"range":[1089,961,900,2209,576,1600,1521,4489,2116,1400,1296,1296]}}}}
]
},
{"data":{"name":"minis"},"transform":[{"filter":"datum.chart=='Steps'"}],"mark":{"type":"bar","cornerRadius":3},"encoding":{"x":{"field":"slot","type":"ordinal","axis":null,"scale":{"type":"band","domain":["1","2","3","4","5","6","7"],"range":[598.7,771.3],"paddingInner":0.29,"paddingOuter":0.145}},"y":{"field":"low","type":"quantitative","axis":null,"stack":null,"scale":{"domain":[0,100],"range":[790,690]}},"y2":{"field":"high"},"color":{"field":"tone","type":"nominal","legend":null,"scale":{"domain":["rest","accent"],"range":["#a0a0a0","#f9a578"]}}}},
{"data":{"name":"minis"},"transform":[{"filter":"datum.chart=='Distance'"}],"mark":{"type":"bar","cornerRadius":3},"encoding":{"x":{"field":"slot","type":"ordinal","axis":null,"scale":{"type":"band","domain":["1","2","3","4","5","6","7"],"range":[1451,1623.8],"paddingInner":0.29,"paddingOuter":0.145}},"y":{"field":"low","type":"quantitative","axis":null,"stack":null,"scale":{"domain":[0,100],"range":[422,322]}},"y2":{"field":"high"},"color":{"field":"tone","type":"nominal","legend":null,"scale":{"domain":["rest","accent"],"range":["#a0a0a0","#f9a578"]}}}},
{"data":{"name":"minis"},"transform":[{"filter":"datum.chart=='Effort'"}],"mark":{"type":"bar","cornerRadius":6},"encoding":{"x":{"field":"slot","type":"ordinal","axis":null,"scale":{"type":"band","domain":["1","2","3","4","5","6","7"],"range":[1451,1623.8],"paddingInner":0.476,"paddingOuter":0.238}},"y":{"field":"low","type":"quantitative","axis":null,"stack":null,"scale":{"domain":[0,110],"range":[707.5,597.5]}},"y2":{"field":"high"},"color":{"field":"tone","type":"nominal","legend":null,"scale":{"domain":["rest","accent"],"range":["#a0a0a0","#f9a578"]}}}},
{"data":{"name":"minis"},"transform":[{"filter":"datum.chart=='Resting'"}],"mark":{"type":"bar","cornerRadius":3},"encoding":{"x":{"field":"slot","type":"ordinal","axis":null,"scale":{"type":"band","domain":["1","2","3","4","5","6","7"],"range":[1451,1623.8],"paddingInner":0.29,"paddingOuter":0.145}},"y":{"field":"low","type":"quantitative","axis":null,"stack":null,"scale":{"domain":[0,100],"range":[1256,1156]}},"y2":{"field":"high"},"color":{"field":"tone","type":"nominal","legend":null,"scale":{"domain":["restDark","orange"],"range":["#5c5c5e","#ff6a2b"]}}}},
{"data":{"name":"minis"},"transform":[{"filter":"datum.chart=='Support'"}],"mark":{"type":"bar","cornerRadius":6},"encoding":{"x":{"field":"slot","type":"ordinal","axis":null,"scale":{"type":"band","domain":["1","2","3","4","5","6","7"],"range":[1451,1623.8],"paddingInner":0.476,"paddingOuter":0.238}},"y":{"field":"low","type":"quantitative","axis":null,"stack":null,"scale":{"domain":[0,110],"range":[1549,1439]}},"y2":{"field":"high"},"color":{"field":"tone","type":"nominal","legend":null,"scale":{"domain":["rest","amberDot"],"range":["#a0a0a0","#f8ca7a"]}}}},
{"data":{"name":"heartRate"},"mark":{"type":"bar","cornerRadius":4},"encoding":{"x":{"field":"slot","type":"ordinal","axis":null,"scale":{"type":"band","domain":["1","2","3","4","5","6","7","8"],"range":[594.8,710.2],"paddingInner":0.44,"paddingOuter":0.22}},"y":{"field":"low","type":"quantitative","axis":null,"stack":null,"scale":{"domain":[50,154],"range":[1346,1242]}},"y2":{"field":"high"},"color":{"field":"tone","type":"nominal","legend":null,"scale":{"domain":["rest","pinkDot"],"range":["#a0a0a0","#f693ab"]}}}},
{"data":{"name":"heartRate"},"mark":{"type":"bar","cornerRadius":4},"encoding":{"x":{"field":"slot","type":"ordinal","axis":null,"scale":{"type":"band","domain":["1","2","3","4","5","6","7","8"],"range":[1447.3,1562.6],"paddingInner":0.44,"paddingOuter":0.22}},"y":{"field":"low","type":"quantitative","axis":null,"stack":null,"scale":{"domain":[50,154],"range":[980,876]}},"y2":{"field":"high"},"color":{"field":"tone","type":"nominal","legend":null,"scale":{"domain":["rest","pinkDot"],"range":["#a0a0a0","#f693ab"]}}}},
{"data":{"name":"sleep"},"mark":{"type":"rect","cornerRadius":4},"encoding":{"x":{"field":"start","type":"quantitative","axis":null,"scale":{"domain":[0,100],"range":[602,769]}},"x2":{"field":"end"},"y":{"field":"low","type":"quantitative","axis":null,"scale":{"domain":[0,100],"range":[1066,970]}},"y2":{"field":"high"},"color":{"field":"stage","type":"nominal","legend":null,"scale":{"domain":["Awake","Rise","Core","REM","Deep"],"range":["#c9978d","#8db0c6","#78b2f2","#b0e8fa","#8c88cc"]}}}},
{"data":{"name":"signal"},"mark":{"type":"bar","cornerRadius":3},"encoding":{"x":{"field":"slot","type":"ordinal","axis":null,"scale":{"type":"band","domain":["1","2","3","4"],"range":[619,669],"paddingInner":0.42,"paddingOuter":0.21}},"y":{"field":"bars","type":"quantitative","axis":null,"stack":null,"scale":{"domain":[0,26],"range":[74,48]}},"color":{"field":"tone","type":"nominal","legend":null,"scale":{"domain":["on","off"],"range":["#ffffff","rgba(255,255,255,0.3)"]}}}},
{"data":{"name":"signal"},"mark":{"type":"bar","cornerRadius":3},"encoding":{"x":{"field":"slot","type":"ordinal","axis":null,"scale":{"type":"band","domain":["1","2","3","4"],"range":[1472,1522],"paddingInner":0.42,"paddingOuter":0.21}},"y":{"field":"bars","type":"quantitative","axis":null,"stack":null,"scale":{"domain":[0,26],"range":[74,48]}},"color":{"field":"tone","type":"nominal","legend":null,"scale":{"domain":["on","off"],"range":["#ffffff","rgba(255,255,255,0.2)"]}}}},
{"data":{"name":"signal"},"mark":{"type":"bar","cornerRadius":3},"encoding":{"x":{"field":"slot","type":"ordinal","axis":null,"scale":{"type":"band","domain":["1","2","3","4"],"range":[2325,2375],"paddingInner":0.42,"paddingOuter":0.21}},"y":{"field":"bars","type":"quantitative","axis":null,"stack":null,"scale":{"domain":[0,26],"range":[74,48]}},"color":{"field":"tone","type":"nominal","legend":null,"scale":{"domain":["on","off"],"range":["#ffffff","rgba(255,255,255,0.2)"]}}}},
{"data":{"name":"calLines"},"mark":{"type":"rule","color":"#3c3c3c","strokeWidth":1.5},"encoding":{"x":{"field":"first","type":"quantitative","axis":null,"scale":{"domain":[0,7],"range":[1745,2450]}},"x2":{"field":"last"},"y":{"field":"cal","type":"quantitative","axis":null,"scale":{"domain":[0,2000],"range":[1039,481]}}}},
{"data":{"name":"dayLines"},"transform":[{"filter":"datum.style=='dash'"}],"mark":{"type":"rule","color":"#4a4a4a","strokeWidth":1.5,"strokeDash":[6,5]},"encoding":{"x":{"field":"edge","type":"quantitative","axis":null,"scale":{"domain":[0,7],"range":[1745,2450]}},"y":{"field":"top","type":"quantitative","axis":null,"scale":{"domain":[0,2000],"range":[1039,481]}},"y2":{"field":"bottom"}}},
{"data":{"name":"dayLines"},"transform":[{"filter":"datum.style=='solid'"}],"mark":{"type":"rule","color":"#454545","strokeWidth":1.5},"encoding":{"x":{"field":"edge","type":"quantitative","axis":null,"scale":{"domain":[0,7],"range":[1745,2450]}},"y":{"field":"top","type":"quantitative","axis":null,"scale":{"domain":[0,2000],"range":[1039,481]}},"y2":{"field":"bottom"}}},
{"data":{"name":"week"},"mark":{"type":"bar","color":"#ff6a2a","cornerRadiusTopLeft":3,"cornerRadiusTopRight":3},"encoding":{
"x":{"field":"day","type":"nominal","sort":null,"scale":{"type":"band","domain":["Thu","Fri","Sat","Sun","Mon","Tue","Wed"],"range":[1745,2450],"paddingInner":0.346,"paddingOuter":0.173},"axis":{"title":null,"orient":"bottom","offset":-797,"zindex":1,"domain":false,"ticks":false,"grid":false,"labelAngle":0,"labelAlign":"left","labelBaseline":"top","labelOffset":-46,"labelPadding":16,"labelFont":"Inter","labelFontSize":28,"labelColor":"#636363"}},
"y":{"field":"cal","type":"quantitative","scale":{"domain":[0,2000],"range":[1039,481]},"axis":{"title":null,"orient":"right","offset":-110,"zindex":1,"values":[0,1000,2000],"format":",.0f","domain":false,"ticks":false,"grid":false,"labelPadding":10,"labelFont":"Inter","labelFontSize":28,"labelColor":"#6a6a6a"}}
}}
]
}
